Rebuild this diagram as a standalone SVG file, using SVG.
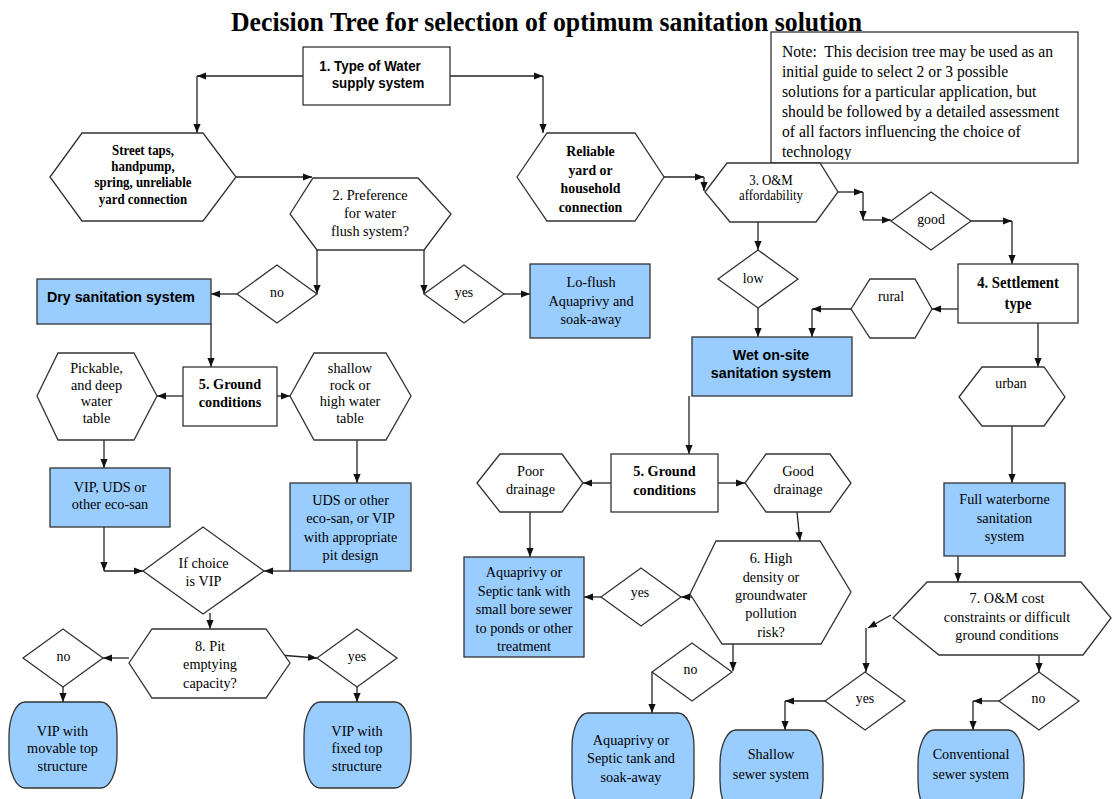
<svg xmlns="http://www.w3.org/2000/svg" width="1112" height="799" viewBox="0 0 1112 799">
<style>
.s{fill:#fff;stroke:#333;stroke-width:1.3}
.b{fill:#99ccff;stroke:#333;stroke-width:1.3}
.c{fill:none;stroke:#222;stroke-width:1.3;marker-end:url(#a)}
text{fill:#000;text-anchor:middle}
.t{font-family:"Liberation Serif","Times New Roman",serif;font-size:15.5px}
.tb{font-family:"Liberation Serif","Times New Roman",serif;font-weight:bold;font-size:15px}
.ts{font-family:"Liberation Sans",Arial,sans-serif;font-weight:bold;font-size:15.5px}
</style>
<defs>
<marker id="a" viewBox="0 0 10 10" refX="10" refY="5" markerWidth="9" markerHeight="9" markerUnits="userSpaceOnUse" orient="auto"><path d="M0,1 L10,5 L0,9 z" fill="#111"/></marker>
<clipPath id="nc"><rect x="771" y="32" width="307" height="128"/></clipPath>
</defs>
<rect width="1112" height="799" fill="#fff"/>

<text class="tb" style="font-size:28px" transform="translate(546.5 0) scale(.92 1)" x="0" y="31">Decision Tree for selection of optimum sanitation solution</text>

<g id="connectors">
<path class="c" d="M303,76 H197"/><path class="c" d="M197,76 V133"/>
<path class="c" d="M450,76 H543"/><path class="c" d="M543,76 V133"/>
<path class="c" d="M236,177 H312"/>
<path class="c" d="M664,177 H704"/><path class="c" d="M704,177 V191"/>
<path class="c" d="M838,192 H863"/><path class="c" d="M863,192 V220"/><path class="c" d="M863,220 H891"/>
<path class="c" d="M971,221 H1012"/><path class="c" d="M1012,221 V264"/>
<path class="c" d="M758,222 V250"/>
<path class="c" d="M758,308 V337"/>
<path class="c" d="M958,309 H932"/>
<path class="c" d="M851,309 H812"/><path class="c" d="M812,309 V337"/>
<path class="c" d="M1038,323 V367"/>
<path class="c" d="M1012,426 V483"/>
<path class="c" d="M317,250 V294"/>
<path class="c" d="M424,250 V294"/>
<path class="c" d="M237,294 H211"/>
<path class="c" d="M504,294 H530"/>
<path class="c" d="M211,324 V367"/>
<path class="c" d="M183,396 H157"/>
<path class="c" d="M277,396 H290"/>
<path class="c" d="M104,440 V468"/>
<path class="c" d="M357,440 V483"/>
<path class="c" d="M104,527 V571"/><path class="c" d="M104,571 H143"/>
<path class="c" d="M290,571 H264"/>
<path class="c" d="M210,613 V629"/>
<path class="c" d="M129,658 H103"/>
<path class="c" d="M279,655 L317,658"/>
<path class="c" d="M63,687 V702"/>
<path class="c" d="M357,687 V702"/>
<path class="c" d="M689,396 V454"/>
<path class="c" d="M611,483 H583"/>
<path class="c" d="M718,483 H745"/>
<path class="c" d="M530,512 V557"/>
<path class="c" d="M797,512 L800,541"/>
<path class="c" d="M693,597 H681"/>
<path class="c" d="M601,597 H584"/>
<path class="c" d="M733,644 V671"/>
<path class="c" d="M652,672 V713"/>
<path class="c" d="M958,556 V582"/>
<path class="c" d="M891,615 L868,628"/><path class="c" d="M866,628 V672"/>
<path class="c" d="M825,701 H785"/><path class="c" d="M785,701 V730"/>
<path class="c" d="M1039,655 V672"/>
<path class="c" d="M999,701 H973"/><path class="c" d="M973,701 V730"/>
</g>

<g id="note">
<rect class="s" x="771" y="32" width="307" height="131"/>
<g clip-path="url(#nc)">
<text class="t" style="font-size:17px;text-anchor:start" transform="translate(782 0) scale(.92 1)"><tspan x="0" y="57">Note:&#160; This decision tree may be used as an</tspan><tspan x="0" y="77">initial guide to select 2 or 3 possible</tspan><tspan x="0" y="97">solutions for a particular application, but</tspan><tspan x="0" y="117">should be followed by a detailed assessment</tspan><tspan x="0" y="137">of all factors influencing the choice of</tspan><tspan x="0" y="157">technology</tspan></text>
</g>
</g>

<g id="n1">
<rect class="s" x="303" y="47" width="147" height="58"/>
<text class="ts" style="font-size:14.5px" transform="translate(370 0) scale(.92 1)" x="0" y="71">1. Type of Water</text>
<text class="ts" style="font-size:14.5px" transform="translate(378 0) scale(.92 1)" x="0" y="88">supply system</text>
</g>

<g id="street-taps">
<polygon class="s" points="50,177 82,133 203,133 236,177 203,221 82,221"/>
<text class="tb" style="font-size:14px" transform="translate(143 0) scale(.92 1)"><tspan x="0" y="155">Street taps,</tspan><tspan x="0" y="171">handpump,</tspan><tspan x="0" y="187">spring, unreliable</tspan><tspan x="0" y="204">yard connection</tspan></text>
</g>

<g id="reliable">
<polygon class="s" points="517,177 547,133 635,133 664,177 635,221 547,221"/>
<text class="tb" transform="translate(590.5 0) scale(.92 1)"><tspan x="0" y="156">Reliable</tspan><tspan x="0" y="175">yard or</tspan><tspan x="0" y="193">household</tspan><tspan x="0" y="212">connection</tspan></text>
</g>

<g id="q2">
<polygon class="s" points="290,214 313,178 418,178 451,214 424,250 317,250"/>
<text class="t" transform="translate(370 0) scale(.92 1)"><tspan x="0" y="200">2. Preference</tspan><tspan x="0" y="218">for water</tspan><tspan x="0" y="236">flush system?</tspan></text>
</g>

<g id="q3">
<polygon class="s" points="705,192 727,163 820,163 838,192 816,222 730,222"/>
<text class="t" style="font-size:14px" transform="translate(771 0) scale(.92 1)"><tspan x="0" y="185">3. O&amp;M</tspan><tspan x="0" y="200">affordability</tspan></text>
</g>

<g id="good">
<polygon class="s" points="891,221 931,192 971,221 931,250"/>
<text class="t" style="font-size:15px" transform="translate(931 0) scale(.92 1)" x="0" y="224">good</text>
</g>

<g id="low">
<polygon class="s" points="718,279 758,250 798,279 758,308"/>
<text class="t" style="font-size:15px" transform="translate(753 0) scale(.92 1)" x="0" y="283">low</text>
</g>

<g id="settlement">
<rect class="s" x="958" y="264" width="120" height="59"/>
<text class="tb" style="font-size:16px" transform="translate(1018 0) scale(.92 1)"><tspan x="0" y="288">4. Settlement</tspan><tspan x="0" y="309">type</tspan></text>
</g>

<g id="rural">
<polygon class="s" points="851,309 870,279 915,279 932,309 915,338 870,338"/>
<text class="t" style="font-size:15px" transform="translate(891 0) scale(.92 1)" x="0" y="301">rural</text>
</g>

<g id="urban">
<polygon class="s" points="959,397 982,367 1044,367 1065,397 1044,426 982,426"/>
<text class="t" style="font-size:15px" transform="translate(1011 0) scale(.92 1)" x="0" y="388">urban</text>
</g>

<g id="wet">
<rect class="b" x="692" y="337" width="160" height="59"/>
<text class="ts" transform="translate(771 0) scale(.92 1)"><tspan x="0" y="360">Wet on-site</tspan><tspan x="0" y="378">sanitation system</tspan></text>
</g>

<g id="full-waterborne">
<rect class="b" x="944" y="483" width="121" height="73"/>
<text class="t" transform="translate(1004.5 0) scale(.92 1)"><tspan x="0" y="504">Full waterborne</tspan><tspan x="0" y="523">sanitation</tspan><tspan x="0" y="541">system</tspan></text>
</g>

<g id="no1">
<polygon class="s" points="237,294 277,265 317,294 277,323"/>
<text class="t" style="font-size:15px" transform="translate(277 0) scale(.92 1)" x="0" y="297">no</text>
</g>

<g id="yes1">
<polygon class="s" points="424,294 464,265 504,294 464,323"/>
<text class="t" style="font-size:15px" transform="translate(464 0) scale(.92 1)" x="0" y="297">yes</text>
</g>

<g id="dry">
<rect class="b" x="37" y="279" width="174" height="45"/>
<text class="ts" transform="translate(121 0) scale(.92 1)" x="0" y="302">Dry sanitation system</text>
</g>

<g id="loflush">
<rect class="b" x="530" y="264" width="120" height="74"/>
<text class="t" transform="translate(591 0) scale(.92 1)"><tspan x="0" y="287">Lo-flush</tspan><tspan x="0" y="306">Aquaprivy and</tspan><tspan x="0" y="324">soak-away</tspan></text>
</g>

<g id="ground-left">
<rect class="s" x="183" y="367" width="94" height="59"/>
<text class="tb" style="font-size:15.5px" transform="translate(230 0) scale(.92 1)"><tspan x="0" y="389">5. Ground</tspan><tspan x="0" y="407">conditions</tspan></text>
</g>

<g id="pickable">
<polygon class="s" points="37,396 58,353 134,353 157,396 134,440 58,440"/>
<text class="t" transform="translate(96.5 0) scale(.92 1)"><tspan x="0" y="373">Pickable,</tspan><tspan x="0" y="390">and deep</tspan><tspan x="0" y="406">water</tspan><tspan x="0" y="423">table</tspan></text>
</g>

<g id="shallow-rock">
<polygon class="s" points="290,396 314,353 386,353 411,396 386,440 314,440"/>
<text class="t" transform="translate(350 0) scale(.92 1)"><tspan x="0" y="373">shallow</tspan><tspan x="0" y="390">rock or</tspan><tspan x="0" y="406">high water</tspan><tspan x="0" y="423">table</tspan></text>
</g>

<g id="vip-uds">
<rect class="b" x="50" y="468" width="120" height="59"/>
<text class="t" transform="translate(110 0) scale(.92 1)"><tspan x="0" y="492">VIP, UDS or</tspan><tspan x="0" y="509">other eco-san</tspan></text>
</g>

<g id="uds-other">
<rect class="b" x="290" y="483" width="121" height="88"/>
<text class="t" transform="translate(350.5 0) scale(.92 1)"><tspan x="0" y="505">UDS or other</tspan><tspan x="0" y="523">eco-san, or VIP</tspan><tspan x="0" y="542">with appropriate</tspan><tspan x="0" y="560">pit design</tspan></text>
</g>

<g id="if-vip">
<polygon class="s" points="143,571 203,527 264,571 203,614"/>
<text class="t" transform="translate(203.5 0) scale(.92 1)"><tspan x="0" y="568">If choice</tspan><tspan x="0" y="586">is VIP</tspan></text>
</g>

<g id="q8">
<polygon class="s" points="129,663 152,629 266,629 290,663 266,698 152,698"/>
<text class="t" transform="translate(210 0) scale(.92 1)"><tspan x="0" y="651">8. Pit</tspan><tspan x="0" y="669">emptying</tspan><tspan x="0" y="688">capacity?</tspan></text>
</g>

<g id="no2">
<polygon class="s" points="23,658 63,629 103,658 63,687"/>
<text class="t" style="font-size:15px" transform="translate(63.5 0) scale(.92 1)" x="0" y="661">no</text>
</g>

<g id="yes2">
<polygon class="s" points="317,658 357,629 397,658 357,687"/>
<text class="t" style="font-size:15px" transform="translate(357 0) scale(.92 1)" x="0" y="661">yes</text>
</g>

<g id="vip-movable">
<rect class="b" x="9" y="702" width="108" height="86" rx="16" ry="34"/>
<text class="t" transform="translate(62.5 0) scale(.92 1)"><tspan x="0" y="736">VIP with</tspan><tspan x="0" y="753">movable top</tspan><tspan x="0" y="771">structure</tspan></text>
</g>

<g id="vip-fixed">
<rect class="b" x="304" y="702" width="107" height="86" rx="16" ry="34"/>
<text class="t" transform="translate(357 0) scale(.92 1)"><tspan x="0" y="736">VIP with</tspan><tspan x="0" y="753">fixed top</tspan><tspan x="0" y="771">structure</tspan></text>
</g>

<g id="ground-right">
<rect class="s" x="611" y="454" width="107" height="58"/>
<text class="tb" style="font-size:15.5px" transform="translate(664.5 0) scale(.92 1)"><tspan x="0" y="476">5. Ground</tspan><tspan x="0" y="495">conditions</tspan></text>
</g>

<g id="poor">
<polygon class="s" points="477,483 500,454 562,454 583,483 562,512 500,512"/>
<text class="t" transform="translate(530.5 0) scale(.92 1)"><tspan x="0" y="476">Poor</tspan><tspan x="0" y="494">drainage</tspan></text>
</g>

<g id="good-drainage">
<polygon class="s" points="745,483 766,454 830,454 851,483 830,512 766,512"/>
<text class="t" transform="translate(798 0) scale(.92 1)"><tspan x="0" y="476">Good</tspan><tspan x="0" y="494">drainage</tspan></text>
</g>

<g id="aqua-sbs">
<rect class="b" x="464" y="557" width="120" height="100"/>
<text class="t" transform="translate(524 0) scale(.92 1)"><tspan x="0" y="577">Aquaprivy or</tspan><tspan x="0" y="596">Septic tank with</tspan><tspan x="0" y="614">small bore sewer</tspan><tspan x="0" y="633">to ponds or other</tspan><tspan x="0" y="651">treatment</tspan></text>
</g>

<g id="q6">
<polygon class="s" points="690,594 716,541 820,541 851,592 821,644 722,644"/>
<text class="t" transform="translate(771 0) scale(.92 1)"><tspan x="0" y="563">6. High</tspan><tspan x="0" y="582">density or</tspan><tspan x="0" y="600">groundwater</tspan><tspan x="0" y="618">pollution</tspan><tspan x="0" y="637">risk?</tspan></text>
</g>

<g id="yes3">
<polygon class="s" points="601,597 641,568 681,597 641,626"/>
<text class="t" style="font-size:15px" transform="translate(640 0) scale(.92 1)" x="0" y="597">yes</text>
</g>

<g id="no3">
<polygon class="s" points="652,672 692,643 732,672 692,701"/>
<text class="t" style="font-size:15px" transform="translate(690.5 0) scale(.92 1)" x="0" y="674">no</text>
</g>

<g id="aqua-soak">
<rect class="b" x="572" y="713" width="122" height="100" rx="16" ry="34"/>
<text class="t" transform="translate(631 0) scale(.92 1)"><tspan x="0" y="745">Aquaprivy or</tspan><tspan x="0" y="763">Septic tank and</tspan><tspan x="0" y="782">soak-away</tspan></text>
</g>

<g id="q7">
<polygon class="s" points="893,618 927,582 1081,582 1111,618 1083,655 939,655"/>
<text class="t" transform="translate(1007 0) scale(.92 1)"><tspan x="0" y="603">7. O&amp;M cost</tspan><tspan x="0" y="622">constraints or difficult</tspan><tspan x="0" y="640">ground conditions</tspan></text>
</g>

<g id="yes4">
<polygon class="s" points="825,701 865,672 905,701 865,730"/>
<text class="t" style="font-size:15px" transform="translate(865 0) scale(.92 1)" x="0" y="703">yes</text>
</g>

<g id="no4">
<polygon class="s" points="999,701 1039,672 1079,701 1039,730"/>
<text class="t" style="font-size:15px" transform="translate(1038.5 0) scale(.92 1)" x="0" y="703">no</text>
</g>

<g id="shallow-sewer">
<rect class="b" x="720" y="730" width="103" height="85" rx="16" ry="34"/>
<text class="t" transform="translate(771 0) scale(.92 1)"><tspan x="0" y="759">Shallow</tspan><tspan x="0" y="779">sewer system</tspan></text>
</g>

<g id="conventional">
<rect class="b" x="918" y="730" width="106" height="85" rx="16" ry="34"/>
<text class="t" transform="translate(971 0) scale(.92 1)"><tspan x="0" y="759">Conventional</tspan><tspan x="0" y="779">sewer system</tspan></text>
</g>
</svg>
